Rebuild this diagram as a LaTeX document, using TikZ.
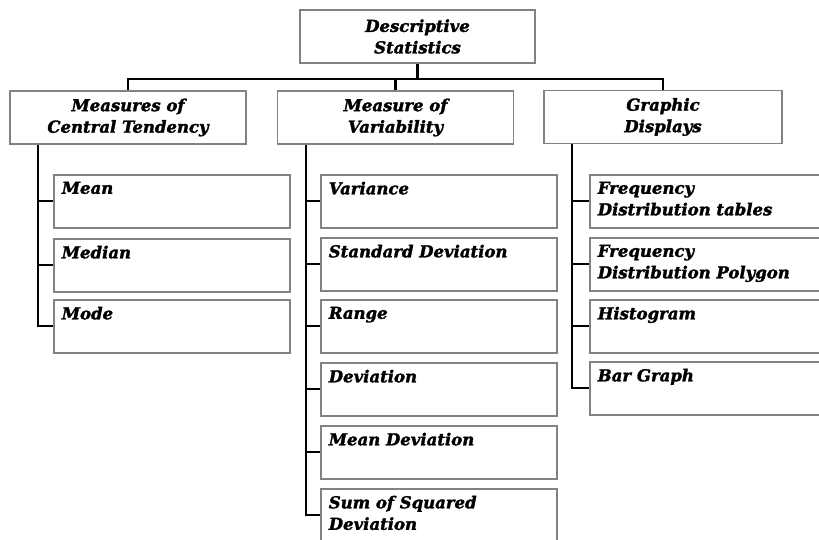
\documentclass[tikz,border=0pt]{standalone}
\usepackage{fontspec}
\setmainfont{DejaVu Serif}[BoldItalicFeatures={FakeBold=1.8}]
\usetikzlibrary{positioning,calc}
\definecolor{boxgray}{RGB}{130,130,130}

\begin{document}
\begin{tikzpicture}[
  x=1pt, y=-1pt,
  font=\fontsize{16.5}{21.5}\selectfont\bfseries\itshape,
  head/.style={draw=boxgray, line width=1.6pt, align=center, minimum width=236pt, minimum height=53pt, inner sep=2pt},
  leaf/.style={draw=boxgray, line width=1.6pt, anchor=north west, inner sep=8pt, inner ysep=7pt,
    execute at begin node={\begin{minipage}[t][39pt][t]{220pt}\raggedright},
    execute at end node={\end{minipage}}},
  link/.style={line width=2.2pt, black}
]
\clip (0,0) rectangle (819,539);
% top of the tree
\node[head, minimum width=235pt] (desc) at (417.5,36.5) {Descriptive\\Statistics};
\node[head] (cent) at (128,117.5) {Measures of\\Central Tendency};
\node[head] (vari) at (395.5,117.5) {Measure of\\Variability};
\node[head, minimum width=238pt] (disp) at (663,117) {Graphic\\Displays};
\draw[link] (desc.south) -- ++(0,15) -| (cent.north);
\draw[link] (desc.south) -- ++(0,15) -| (vari.north);
\draw[link] (desc.south) -- ++(0,15) -| (disp.north);
% central tendency
\node[leaf] (mean) at (53,174) {Mean};
\node[leaf] (median) at (53,238) {Median};
\node[leaf] (mode) at (53,299) {Mode};
\draw[link] ([xshift=29pt]cent.south west) |- (mean.west);
\draw[link] ([xshift=29pt]cent.south west) |- (median.west);
\draw[link] ([xshift=29pt]cent.south west) |- (mode.west);
% variability
\node[leaf] (var) at (320,174) {Variance};
\node[leaf] (sd) at (320,237) {Standard Deviation};
\node[leaf] (range) at (320,299) {Range};
\node[leaf] (dev) at (320,362) {Deviation};
\node[leaf] (mdev) at (320,425) {Mean Deviation};
\node[leaf] (ssd) at (320,488) {Sum of Squared\\Deviation};
\foreach \n in {var,sd,range,dev,mdev,ssd}
  \draw[link] ([xshift=29pt]vari.south west) |- (\n.west);
% graphic displays
\node[leaf] (tab) at (589,174) {Frequency\\Distribution tables};
\node[leaf] (poly) at (589,237) {Frequency\\Distribution Polygon};
\node[leaf] (hist) at (589,299) {Histogram};
\node[leaf] (bar) at (589,361) {Bar Graph};
\foreach \n in {tab,poly,hist,bar}
  \draw[link] ([xshift=29pt]disp.south west) |- (\n.west);
\end{tikzpicture}
\end{document}
